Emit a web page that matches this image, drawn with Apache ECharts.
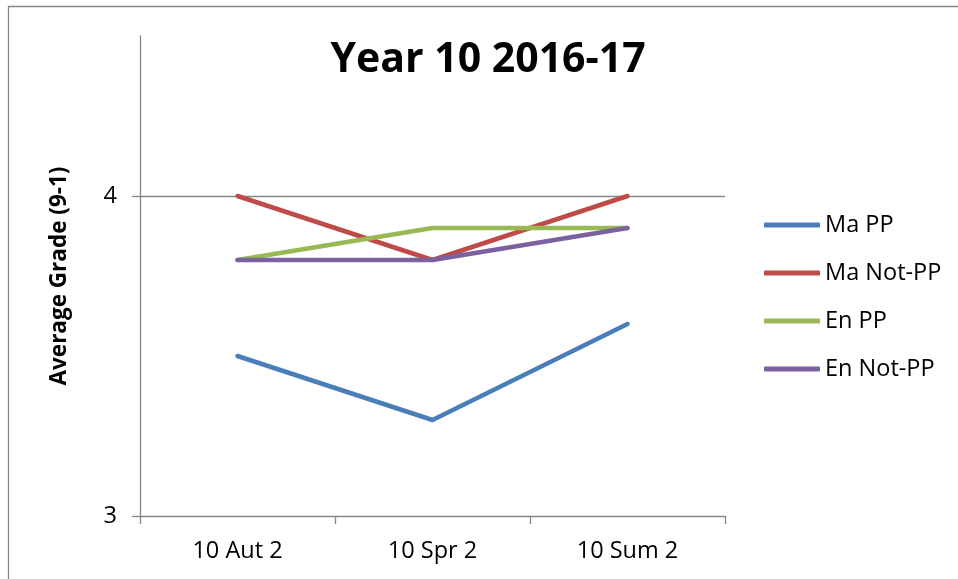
<!DOCTYPE html>
<html>
<head>
<meta charset="utf-8">
<script src="https://cdn.jsdelivr.net/npm/echarts@6/dist/echarts.min.js"></script>
<style>html,body{margin:0;padding:0;background:#fff}#c{width:958px;height:579px}</style>
</head>
<body>
<div id="c"></div>
<script>
const categories = ['10 Aut 2', '10 Spr 2', '10 Sum 2'];
const maPP = [3.5, 3.3, 3.6];
const maNotPP = [4.0, 3.8, 4.0];
const enPP = [3.8, 3.9, 3.9];
const enNotPP = [3.8, 3.8, 3.9];
const yTicks = [3, 4];

const FONT = 'Open Sans';
const chart = echarts.init(document.getElementById('c'), null, {renderer: 'canvas'});
function ser(name, data, color) {
  return {
    name, type: 'line', data, showSymbol: false, symbol: 'none', smooth: false,
    lineStyle: {color, width: 4.5, cap: 'round', join: 'round'},
    itemStyle: {color}, emphasis: {disabled: true}, silent: true
  };
}
const series = [
  ser('Ma PP', maPP, '#4A7EBB'),
  ser('Ma Not-PP', maNotPP, '#BE4B48'),
  ser('En PP', enPP, '#98B954'),
  ser('En Not-PP', enNotPP, '#7D60A0')
];
series[0].markLine = {
  silent: true, symbol: ['none', 'none'], label: {show: false},
  lineStyle: {color: '#868686', width: 1.3, type: 'solid'},
  data: [{yAxis: 4}], z: 1
};
chart.setOption({
  animation: false,
  backgroundColor: '#fff',
  textStyle: {fontFamily: FONT},
  title: {
    text: 'Year 10 2016-17', left: 483, top: 35, textAlign: 'center',
    textStyle: {fontFamily: FONT, fontWeight: 'bold', fontSize: 41, color: '#000'}
  },
  graphic: [{
    type: 'rect', shape: {x: 8.5, y: 6.5, width: 1000, height: 700},
    style: {fill: 'none', stroke: '#878787', lineWidth: 1.3}, silent: true
  }],
  legend: {
    orient: 'vertical', left: 764, top: 212, icon: 'roundRect', padding: 0,
    itemWidth: 56, itemHeight: 5, itemGap: 22,
    textStyle: {fontFamily: FONT, fontSize: 23.5, color: '#000', lineHeight: 26},
    selectedMode: false
  },
  grid: {left: 140, right: 233, top: 36, bottom: 63, containLabel: false},
  xAxis: {
    type: 'category', data: categories, boundaryGap: true,
    axisLine: {lineStyle: {color: '#868686', width: 1.3}},
    axisTick: {show: true, interval: 0, length: 8, inside: false, lineStyle: {color: '#868686', width: 1.3}},
    axisLabel: {fontFamily: FONT, fontSize: 23.5, color: '#000', margin: 23, interval: 0}
  },
  yAxis: {
    type: 'value', min: 3, max: 4.5, interval: 1,
    name: 'Average Grade (9-1)', nameLocation: 'middle', nameRotate: 90, nameGap: 69,
    nameTextStyle: {fontFamily: FONT, fontWeight: 'bold', fontSize: 22.5, color: '#000'},
    axisLine: {show: true, lineStyle: {color: '#868686', width: 1.3}},
    axisTick: {show: true, length: 8, customValues: yTicks, lineStyle: {color: '#868686', width: 1.3}},
    axisLabel: {fontFamily: FONT, fontSize: 23.5, color: '#000', margin: 23, customValues: yTicks,
      formatter: v => (yTicks.indexOf(v) >= 0 ? String(v) : '')},
    splitLine: {show: false}
  },
  series
});
</script>
</body>
</html>
